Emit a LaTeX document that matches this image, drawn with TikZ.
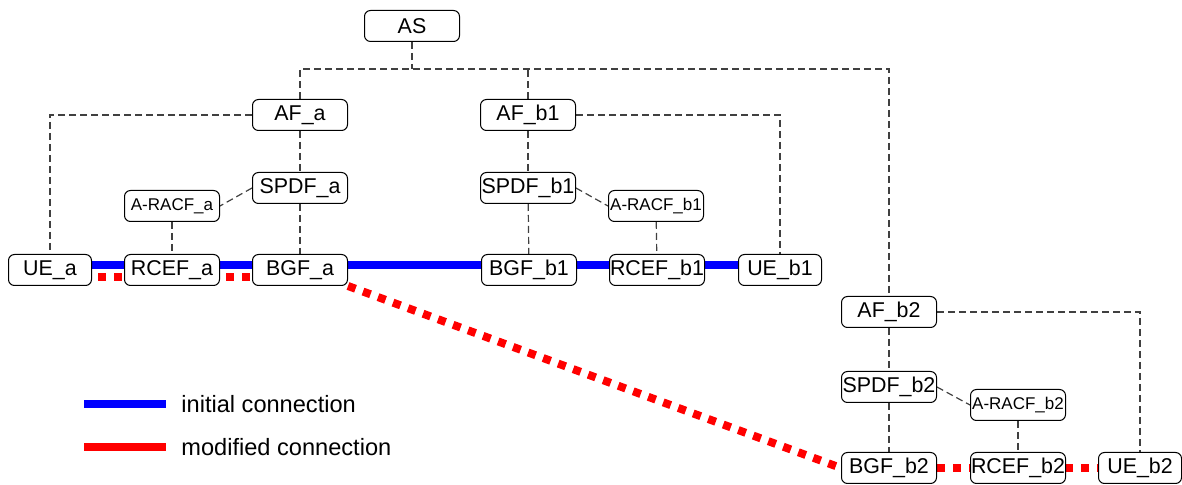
\documentclass[tikz,border=0pt]{standalone}
\usepackage{fontspec}
\setmainfont{Liberation Sans}
\usetikzlibrary{backgrounds}

\begin{document}
\begin{tikzpicture}[x=0.5pt,y=-0.5pt,
  fn/.style={draw,line width=0.5pt,rounded corners=3pt,fill=white,inner sep=0pt,
    minimum width=47.5pt,minimum height=15.5pt,font=\fontsize{10.7}{12}\selectfont},
  ue/.style={fn,minimum width=41.5pt},
  racf/.style={fn,font=\fontsize{8.5}{10}\selectfont},
  ctrl/.style={draw=black!75,line width=0.6pt,dash pattern=on 3.5pt off 2pt},
  initline/.style={draw=blue,line width=4pt},
  modline/.style={draw=red,line width=4pt,dash pattern=on 4pt off 4pt},
  legtext/.style={anchor=west,inner sep=0pt,font=\fontsize{11.8}{14}\selectfont}]
  \useasboundingbox (0,0) rectangle (1182,485);
  % application server and functions
  \node[fn] (AS) at (412,26) {AS};
  \node[fn] (AF_a) at (300,115) {AF\_a};
  \node[fn] (AF_b1) at (528,115) {AF\_b1};
  \node[fn] (AF_b2) at (889,312) {AF\_b2};
  % domain a
  \node[fn] (SPDF_a) at (300,188) {SPDF\_a};
  \node[racf] (racf_a) at (172,206) {A-RACF\_a};
  \node[ue] (UE_a) at (50,270) {UE\_a};
  \node[fn] (RCEF_a) at (172,270) {RCEF\_a};
  \node[fn] (BGF_a) at (300,270) {BGF\_a};
  % domain b1
  \node[fn] (SPDF_b1) at (528,188) {SPDF\_b1};
  \node[racf] (racf_b1) at (656,206) {A-RACF\_b1};
  \node[fn] (BGF_b1) at (529,270) {BGF\_b1};
  \node[fn] (RCEF_b1) at (657,270) {RCEF\_b1};
  \node[ue] (UE_b1) at (780,270) {UE\_b1};
  % domain b2
  \node[fn] (SPDF_b2) at (889,387) {SPDF\_b2};
  \node[racf] (racf_b2) at (1018,405) {A-RACF\_b2};
  \node[fn] (BGF_b2) at (889,468) {BGF\_b2};
  \node[fn] (RCEF_b2) at (1018,468) {RCEF\_b2};
  \node[ue] (UE_b2) at (1140,468) {UE\_b2};
  \coordinate (bus) at (412,69);
  \begin{pgfonlayer}{background}
    % control relations
    \draw[ctrl] (AS) -- (bus);
    \draw[ctrl] (AF_a) |- (bus) -| (AF_b2);
    \draw[ctrl] (AF_b1) -- (AF_b1 |- bus);
    \draw[ctrl] (AF_a) -| (UE_a);
    \draw[ctrl] (AF_b1) -| (UE_b1);
    \draw[ctrl] (AF_b2) -| (UE_b2);
    \draw[ctrl] (AF_a) -- (SPDF_a);
    \draw[ctrl] (SPDF_a) -- (BGF_a);
    \draw[ctrl] (SPDF_a.west) -- (racf_a.east);
    \draw[ctrl] (racf_a) -- (RCEF_a);
    \draw[ctrl] (AF_b1) -- (SPDF_b1);
    \draw[ctrl] (SPDF_b1) -- (BGF_b1);
    \draw[ctrl] (SPDF_b1.east) -- (racf_b1.west);
    \draw[ctrl] (racf_b1) -- (RCEF_b1);
    \draw[ctrl] (AF_b2) -- (SPDF_b2);
    \draw[ctrl] (SPDF_b2) -- (BGF_b2);
    \draw[ctrl] (SPDF_b2.east) -- (racf_b2.west);
    \draw[ctrl] (racf_b2) -- (RCEF_b2);
    % media paths
    \draw[initline] ([yshift=2.5pt]UE_a.center) -- ([yshift=2.5pt]UE_b1.center);
    \draw[modline] ([yshift=-3.5pt]UE_a.center) -- ([yshift=-3.5pt]BGF_a.center);
    \draw[modline] (BGF_a.south east) -- (BGF_b2.west);
    \draw[modline] (BGF_b2.center) -- (UE_b2.center);
  \end{pgfonlayer}
  % legend
  \coordinate (leg1a) at (84,404);
  \coordinate (leg1b) at (166,404);
  \coordinate (leg2a) at (84,447);
  \coordinate (leg2b) at (166,447);
  \draw[initline,line width=3.75pt] (leg1a) -- (leg1b);
  \draw[draw=red,line width=3.75pt] (leg2a) -- (leg2b);
  \node[legtext] (leg1) at (181,404) {initial connection};
  \node[legtext] (leg2) at (181,447) {modified connection};
\end{tikzpicture}
\end{document}
